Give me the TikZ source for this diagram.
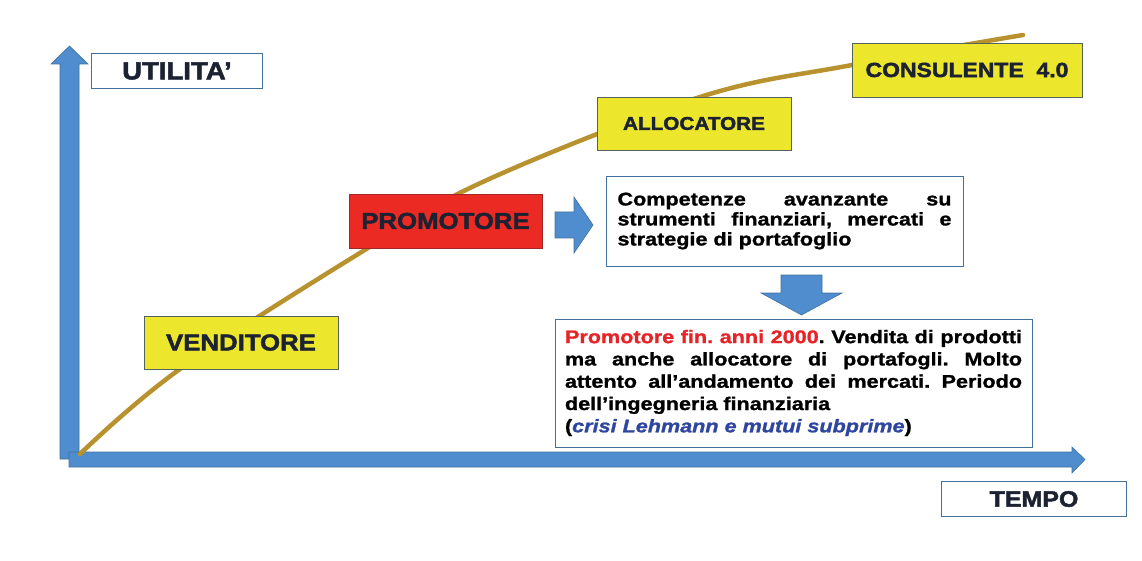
\documentclass[tikz,border=0pt]{standalone}
\usepackage{fontspec}
\setmainfont[FakeStretch=1.1]{Liberation Sans}
\newfontfamily\heavy[FakeStretch=1.12,BoldFeatures={FakeBold=2}]{Liberation Sans}
\newfontfamily\bodyfont[FakeStretch=1.18,BoldFeatures={FakeBold=1.2},BoldItalicFeatures={FakeBold=1.2}]{Liberation Sans}
\definecolor{axisblue}{RGB}{79,141,206}
\definecolor{axisedge}{RGB}{65,113,156}
\definecolor{boxyellow}{RGB}{236,230,45}
\definecolor{boxred}{RGB}{236,42,36}
\definecolor{edgegray}{RGB}{84,98,92}
\definecolor{edgered}{RGB}{160,40,40}
\definecolor{curvegold}{RGB}{184,146,46}
\definecolor{titleink}{RGB}{28,34,49}
\definecolor{redtext}{RGB}{230,36,40}
\definecolor{bluetext}{RGB}{46,70,160}
\begin{document}
\begin{tikzpicture}[x=1pt,y=-1pt,
  blockarrow/.style={fill=axisblue,draw=axisedge,line width=0.6pt,line join=miter},
  titlebox/.style={draw=edgegray,line width=0.9pt,inner sep=0pt,text=titleink},
  yellowbox/.style={titlebox,fill=boxyellow},
  whitebox/.style={titlebox,fill=white,draw=axisedge},
  textbox/.style={draw=axisedge,line width=0.9pt,fill=white,inner sep=0pt,align=justify,text=black}]
\useasboundingbox (0,0) rectangle (1142,561);
% axes
\draw[blockarrow] (60,459) -- (60,64) -- (51,64) -- (69.5,46) -- (88,64) -- (79,64) -- (79,459) -- cycle;
\draw[blockarrow] (69,452) -- (1072,452) -- (1072,447) -- (1085,459.5) -- (1072,473) -- (1072,467) -- (69,467) -- cycle;
% curve
\draw[curvegold,line width=4.5pt,line cap=round] plot[smooth,tension=0.6] coordinates {(80,454) (180,369) (368,248) (487,180) (700,97) (852,65) (1023,35)};
% title boxes
\node[whitebox,minimum width=171pt,minimum height=35pt,font=\heavy\bfseries\fontsize{24.6}{28}\selectfont] (utilita) at (177,71) {UTILITA’};
\node[whitebox,minimum width=185pt,minimum height=34.5pt,font=\heavy\bfseries\fontsize{22.3}{26}\selectfont] (tempo) at (1034,499) {TEMPO};
\node[yellowbox,minimum width=230pt,minimum height=54pt,font=\heavy\bfseries\fontsize{20.5}{24}\selectfont] (consulente) at (967,70) {CONSULENTE\ \ 4.0};
\node[yellowbox,minimum width=194pt,minimum height=53pt,font=\heavy\bfseries\fontsize{18.5}{22}\selectfont] (allocatore) at (694,123.5) {ALLOCATORE};
\node[titlebox,fill=boxred,draw=edgered,minimum width=193pt,minimum height=54pt,font=\heavy\bfseries\fontsize{23}{27}\selectfont] (promotore) at (445.5,221) {PROMOTORE};
\node[yellowbox,minimum width=194pt,minimum height=53pt,font=\heavy\bfseries\fontsize{23}{27}\selectfont] (venditore) at (241,342.5) {VENDITORE};
% text boxes
\node[textbox,minimum width=357pt,minimum height=90pt,text width=334pt,font=\bodyfont\bfseries\frenchspacing\fontsize{18.3}{20}\selectfont] (competenze) at (784.5,221)
  {Competenze avanzante su\linebreak strumenti finanziari, mercati e\linebreak strategie di portafoglio};
\node[textbox,minimum width=477pt,minimum height=128pt,text width=457pt,font=\bodyfont\bfseries\frenchspacing\fontsize{18.3}{22.3}\selectfont] (descr) at (793.5,383)
  {{\color{redtext}Promotore fin. anni 2000}. Vendita di prodotti\linebreak ma anche allocatore di portafogli. Molto\linebreak attento all’andamento dei mercati. Periodo\linebreak dell’ingegneria finanziaria\\({\itshape\color{bluetext}crisi Lehmann e mutui subprime})};
% block arrows between boxes
\draw[blockarrow] (555,212) -- (574,212) -- (574,197) -- (593,225) -- (574,253) -- (574,238) -- (555,238) -- cycle;
\draw[blockarrow] (781,275) -- (822,275) -- (822,293) -- (842,293) -- (801.5,315) -- (761,293) -- (781,293) -- cycle;
\end{tikzpicture}
\end{document}
